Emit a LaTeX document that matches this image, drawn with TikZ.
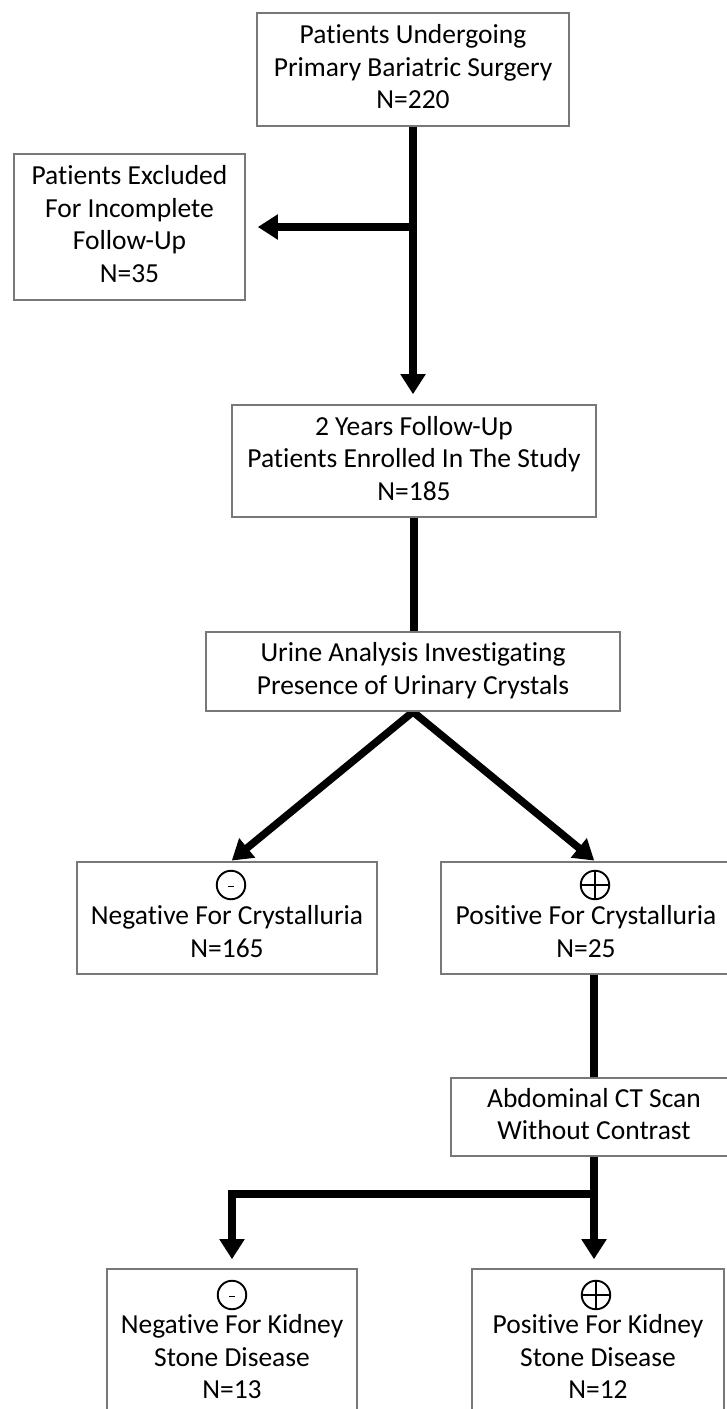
\documentclass[tikz,border=0pt]{standalone}
\usepackage{fontspec}
\setmainfont{Carlito}[Ligatures=NoCommon]
\usetikzlibrary{arrows.meta,calc,backgrounds}
\definecolor{boxgray}{RGB}{120,120,120}
\begin{document}
\begin{tikzpicture}[x=1pt,y=-1pt,
  box/.style={draw=boxgray, line width=1.6pt, fill=white, align=center, inner sep=0pt,
    font=\fontsize{27.5}{32.5}\selectfont, text=black},
  conn/.style={line width=7.5pt, draw=black},
  arr/.style={conn, -{Triangle[length=20pt,width=24pt]}},
  sign/.style={circle, draw=black, line width=1.9pt, minimum size=28.5pt, inner sep=0pt},
  minussign/.style={sign, path picture={\draw[line width=1.9pt]
      ([xshift=-3pt,yshift=-1.5pt]path picture bounding box.center) --
      ([xshift=3pt,yshift=-1.5pt]path picture bounding box.center);}},
  plussign/.style={sign, path picture={
      \draw[line width=1.9pt] (path picture bounding box.north) -- (path picture bounding box.south);
      \draw[line width=1.9pt] (path picture bounding box.west) -- (path picture bounding box.east);}}
]
\useasboundingbox (0,0) rectangle (726,1409);

\node[box, minimum width=312pt, minimum height=113pt] (top) at (413,69.5)
  {\strut Patients Undergoing\\\strut Primary Bariatric Surgery\\\strut N=220};
\node[box, minimum width=231pt, minimum height=146pt] (excl) at (129.5,227)
  {\strut Patients Excluded\\\strut For Incomplete\\\strut Follow-Up\\\strut N=35};
\node[box, minimum width=364pt, minimum height=112pt] (yrs) at (414,461)
  {\strut 2 Years Follow-Up\\\strut Patients Enrolled In The Study\\\strut N=185};
\node[box, minimum width=414pt, minimum height=79pt] (urine) at (413,671.5)
  {\strut Urine Analysis Investigating\\\strut Presence of Urinary Crystals};
\node[box, minimum width=300pt, minimum height=112pt] (ncrys) at (227,918)
  {\strut\\\strut Negative For Crystalluria\\\strut N=165};
\node[box, minimum width=290pt, minimum height=112pt] (pcrys) at (586,918)
  {\strut\\\strut Positive For Crystalluria\\\strut N=25};
\node[box, minimum width=286pt, minimum height=78pt] (ct) at (594,1117)
  {\strut Abdominal CT Scan\\\strut Without Contrast};
\node[box, minimum width=250pt, minimum height=149pt] (nkid) at (232,1343.5)
  {\strut\\\strut Negative For Kidney\\\strut Stone Disease\\\strut N=13};
\node[box, minimum width=252pt, minimum height=149pt] (pkid) at (598,1343.5)
  {\strut\\\strut Positive For Kidney\\\strut Stone Disease\\\strut N=12};

\node[minussign] (ns1) at (231,885) {};
\node[plussign] (ps1) at (595,885) {};
\node[minussign] (ns2) at (232,1295) {};
\node[plussign] (ps2) at (596,1295) {};

\begin{scope}[on background layer]
  \fill[white] (0,0) rectangle (726,1409);
  \draw[arr, shorten >=10pt] (top.south) -- (top.south |- yrs.north);
  \coordinate (j1) at (top.south |- excl.east);
  \draw[arr, shorten >=12pt] (j1) -- (excl.east);
  \draw[conn] (yrs.south) -- (yrs.south |- urine.north);
  \draw[arr, shorten >=1pt] (urine.south) -- (ns1 |- ncrys.north);
  \draw[arr, shorten >=1pt] (urine.south) -- (ps1 |- pcrys.north);
  \draw[conn] (ct.north |- pcrys.south) -- (ct.north);
  \coordinate (j2) at ($(ct.south)+(0,37)$);
  \draw[conn] (ct.south) -- (j2);
  \draw[arr, shorten >=9pt] (j2) -| (ns2 |- nkid.north);
  \draw[arr, shorten >=9pt] (j2) -- (j2 |- pkid.north);
\end{scope}
\end{tikzpicture}
\end{document}
